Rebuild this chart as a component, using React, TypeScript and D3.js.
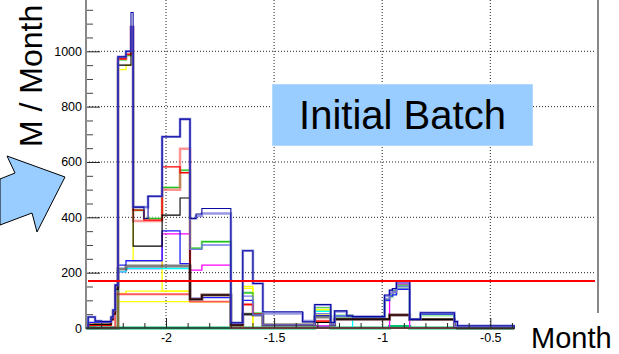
import React, { useEffect, useRef } from 'react';
import * as d3 from 'd3';

// bin edges (months) shared by all histograms
const binEdges = [-2.369, -2.36, -2.328, -2.3, -2.254, -2.245, -2.235, -2.222, -2.185, -2.162, -2.152, -2.102, -2.083, -2.018, -1.935, -1.889, -1.861, -1.834, -1.7, -1.645, -1.598, -1.552, -1.515, -1.368, -1.312, -1.238, -1.22, -1.164, -1.137, -0.989, -0.966, -0.952, -0.934, -0.873, -0.823, -0.666, -0.652, -0.389];

// M / Month per bin, one array per histogram
const navyCounts = [0, 40, 25, 23, 40, 65, 155, 980, 1000, 1140, 437, 396, 476, 691, 755, 396, 412, 432, 19, 279, 161, 59, 59, 22, 85, 20, 62, 44, 41, 119, 137, 143, 167, 31, 55, 23, 8];
const lavenderCounts = [0, 40, 25, 23, 40, 65, 155, 980, 1000, 1088, 437, 437, 476, 691, 755, 396, 405, 414, 19, 279, 161, 53, 53, 25, 83, 20, 60, 44, 41, 116, 134, 140, 165, 31, 55, 23, 8];
const periwinkleCounts = [0, 40, 25, 23, 40, 65, 155, 980, 1000, 1088, 437, 437, 476, 691, 755, 284, 284, 300, 19, 115, 47, 11, 11, 11, 52, 11, 43, 43, 41, 105, 125, 130, 150, 31, 52, 5, 3];
const redCounts = [10, 10, 10, 10, 30, 50, 140, 973, 989, 1088, 426, 390, 390, 582, 561, 104, 104, 119, 10, 85, 50, 11, 11, 11, 25, 11, 32, 32, 32, 32, 47, 47, 47, 31, 31, 5, 0];
const redThickCounts = [13, 13, 13, 13, 30, 60, 150, 973, 989, 1088, 387, 387, 387, 500, 648, 104, 104, 119, 10, 85, 50, 11, 11, 11, 25, 11, 32, 32, 32, 32, 47, 47, 47, 31, 31, 5, 0];
const blackCounts = [13, 13, 13, 13, 30, 50, 140, 950, 950, 1000, 296, 296, 296, 408, 470, 104, 104, 119, 11, 50, 47, 11, 11, 11, 20, 11, 32, 32, 32, 32, 47, 47, 47, 31, 31, 5, 0];
const grayCounts = [0, 0, 0, 0, 0, 0, 0, 213, 224, 224, 224, 224, 224, 224, 224, 104, 104, 119, 11, 50, 47, 11, 11, 11, 40, 11, 32, 32, 32, 32, 47, 47, 47, 31, 31, 5, 0];
const blueCounts = [0, 20, 20, 20, 30, 55, 140, 227, 243, 243, 243, 243, 243, 351, 233, 107, 107, 110, 10, 100, 47, 11, 11, 11, 45, 11, 43, 43, 41, 100, 115, 120, 140, 31, 50, 5, 3];
const greenCounts = [8, 8, 19, 19, 35, 60, 150, 970, 985, 1000, 426, 396, 396, 508, 570, 288, 288, 312, 10, 127, 53, 11, 11, 11, 73, 11, 40, 40, 38, 104, 119, 134, 155, 31, 49, 5, 0];
const lightGreenCounts = [8, 8, 19, 19, 35, 60, 150, 970, 985, 1000, 426, 396, 396, 508, 570, 288, 288, 312, 10, 127, 53, 11, 11, 11, 62, 11, 45, 45, 38, 100, 112, 125, 145, 31, 46, 5, 0];
const springCounts = [0, 0, 0, 0, 0, 0, 0, 0, 0, 0, 0, 0, 0, 0, 0, 0, 0, 0, 0, 0, 0, 0, 0, 0, 4, 0, 0, 0, 0, 0, 5, 5, 5, 0, 0, 0, 0];
const cyanCounts = [0, 0, 0, 0, 0, 0, 137, 203, 215, 215, 215, 215, 215, 215, 215, 104, 104, 119, 0, 0, 0, 0, 0, 0, 60, 0, 42, 42, 0, 0, 0, 0, 0, 0, 0, 0, 0];
const magentaCounts = [0, 0, 0, 0, 0, 0, 0, 203, 215, 215, 215, 215, 215, 340, 340, 209, 209, 227, 15, 0, 0, 0, 0, 0, 8, 0, 0, 0, 0, 0, 125, 130, 159, 0, 0, 0, 0];
const salmonCounts = [0, 0, 0, 0, 0, 0, 122, 122, 122, 122, 122, 122, 122, 122, 122, 95, 95, 95, 0, 0, 0, 0, 0, 0, 0, 0, 0, 0, 0, 0, 0, 0, 0, 0, 0, 0, 0];
const yellowHighCounts = [0, 0, 0, 0, 0, 0, 0, 934, 950, 950, 243, 243, 243, 133, 133, 95, 95, 95, 0, 150, 0, 0, 0, 0, 66, 0, 0, 0, 0, 0, 0, 0, 0, 0, 0, 0, 0];
const yellowMidCounts = [0, 0, 0, 0, 0, 0, 0, 125, 133, 133, 133, 133, 133, 133, 133, 95, 95, 95, 0, 0, 0, 0, 0, 0, 0, 0, 0, 0, 0, 0, 0, 0, 0, 0, 0, 0, 0];
const yellowLowCounts = [0, 0, 0, 0, 0, 0, 95, 95, 95, 95, 95, 95, 95, 95, 95, 95, 95, 95, 0, 143, 0, 0, 0, 0, 50, 0, 0, 0, 0, 0, 0, 0, 0, 0, 0, 0, 0];

const yMajorTicks = [0, 200, 400, 600, 800, 1000];
const xMajorTicks = [-2, -1.5, -1, -0.5];
const thresholdLevel = 170;

const App = () => {
  const svgRef = useRef(null);

  useEffect(() => {
    const svg = d3.select(svgRef.current);
    svg.selectAll('*').remove();

    const left = 86, right = 598, top = 0, bottom = 328;
    const x = d3.scaleLinear().domain([-2, -0.5]).range([166, 490.3]);
    const y = d3.scaleLinear().domain([0, 1000]).range([bottom, 51.3]);
    const font = 'Liberation Sans, Arial, Helvetica, sans-serif';

    svg.append('rect').attr('width', 619).attr('height', 354).attr('fill', '#fff');

    // grid
    const grid = svg.append('g').attr('stroke', '#222').attr('stroke-width', 1).attr('stroke-dasharray', '1,2');
    xMajorTicks.forEach(t => {
      grid.append('line').attr('x1', x(t)).attr('x2', x(t)).attr('y1', top).attr('y2', bottom);
    });
    yMajorTicks.filter(t => t > 0).forEach(t => {
      grid.append('line').attr('x1', left).attr('x2', right - 2).attr('y1', y(t)).attr('y2', y(t));
    });

    // histograms
    const stepPoints = (counts) => {
      const pts = [[binEdges[0], 0]];
      counts.forEach((c, i) => {
        pts.push([binEdges[i], c]);
        pts.push([binEdges[i + 1], c]);
      });
      pts.push([binEdges[binEdges.length - 1], 0]);
      return pts;
    };
    const line = d3.line().x(d => x(d[0])).y(d => y(d[1]));

    const series = [
      { counts: lightGreenCounts, color: '#9eea9e', width: 2.5 },
      { counts: springCounts, color: '#00c070', width: 3 },
      { counts: magentaCounts, color: '#ff00ff', width: 1.3 },
      { counts: yellowLowCounts, color: '#ffff00', width: 1.3 },
      { counts: yellowMidCounts, color: '#ffff00', width: 1.3 },
      { counts: yellowHighCounts, color: '#ffff00', width: 1.3 },
      { counts: cyanCounts, color: '#00ffff', width: 1.3 },
      { counts: salmonCounts, color: '#ff5a5a', width: 1.8 },
      { counts: greenCounts, color: '#22c022', width: 1.1 },
      { counts: blueCounts, color: '#1f1fff', width: 1.3 },
      { counts: redThickCounts, color: 'rgba(255,90,90,0.65)', width: 2.5 },
      { counts: redCounts, color: '#ff0000', width: 1.3 },
      { counts: grayCounts, color: 'rgba(60,60,60,0.65)', width: 3 },
      { counts: blackCounts, color: '#000', width: 1.1 },
      { counts: periwinkleCounts, color: '#7878e8', width: 1.3 },
      { counts: lavenderCounts, color: 'rgba(110,110,215,0.7)', width: 2.6 },
      { counts: navyCounts, color: '#0a0aa0', width: 1.1 }
    ];
    series.forEach(s => {
      svg.append('path')
        .attr('d', line(stepPoints(s.counts)))
        .attr('fill', 'none')
        .attr('stroke', s.color)
        .attr('stroke-width', s.width);
    });

    // threshold
    svg.append('line')
      .attr('x1', left + 2).attr('x2', right - 3)
      .attr('y1', y(thresholdLevel)).attr('y2', y(thresholdLevel))
      .attr('stroke', '#ff0000').attr('stroke-width', 2);

    // frame right edge
    svg.append('line').attr('x1', right).attr('x2', right).attr('y1', top).attr('y2', bottom)
      .attr('stroke', '#888').attr('stroke-width', 2);

    // y axis
    const yMinor = d3.range(50, 1200, 50).filter(v => v % 200 !== 0);
    const yMinorAxis = svg.append('g').attr('transform', `translate(${left},0)`)
      .call(d3.axisLeft(y).tickValues(yMinor).tickSize(-7).tickFormat(() => ''));
    yMinorAxis.select('.domain').remove();
    yMinorAxis.selectAll('line').attr('stroke', '#444');
    const yAxis = svg.append('g').attr('transform', `translate(${left},0)`)
      .call(d3.axisLeft(y).tickValues(yMajorTicks).tickSize(-14).tickPadding(4).tickFormat(d3.format('d')));
    yAxis.select('.domain').remove();
    yAxis.selectAll('line').attr('stroke', '#222');
    yAxis.selectAll('text').attr('font-family', font).attr('font-size', 12.5).attr('fill', '#000');
    svg.append('line').attr('x1', left).attr('x2', left).attr('y1', top).attr('y2', bottom + 1)
      .attr('stroke', '#888').attr('stroke-width', 2);

    // x axis
    const xMinor = d3.range(-2.3, -0.35, 0.1).filter(v => Math.abs(v * 2 - Math.round(v * 2)) > 0.01);
    const xMinorAxis = svg.append('g').attr('transform', `translate(0,${bottom})`)
      .call(d3.axisBottom(x).tickValues(xMinor).tickSize(-5).tickFormat(() => ''));
    xMinorAxis.select('.domain').remove();
    xMinorAxis.selectAll('line').attr('stroke', '#222');
    const xAxis = svg.append('g').attr('transform', `translate(0,${bottom})`)
      .call(d3.axisBottom(x).tickValues(xMajorTicks).tickSize(-10).tickPadding(5).tickFormat(d => `${d}`));
    xAxis.select('.domain').remove();
    xAxis.selectAll('line').attr('stroke', '#222');
    xAxis.selectAll('text').attr('font-family', font).attr('font-size', 12.5).attr('fill', '#000');
    svg.append('line').attr('x1', left).attr('x2', right).attr('y1', bottom).attr('y2', bottom)
      .attr('stroke', '#333').attr('stroke-width', 1.5);

    // axis titles
    svg.append('rect').attr('x', 515).attr('y', 313).attr('width', 104).attr('height', 41).attr('fill', '#fff');
    svg.append('text').attr('x', 531).attr('y', 347.5)
      .attr('font-family', font).attr('font-size', 29).attr('fill', '#000').text('Month');
    svg.append('text').attr('transform', 'translate(42,147) rotate(-90)')
      .attr('font-family', font).attr('font-size', 32).attr('fill', '#000').text('M / Month');

    // arrow annotation
    svg.append('path')
      .attr('d', 'M0,179 L15,173 L7,156 L65,177 L37,232 L32,213 L0,225 Z')
      .attr('fill', '#99ccff').attr('stroke', '#000').attr('stroke-width', 1);

    // label box
    svg.append('rect').attr('x', 272.5).attr('y', 84.5).attr('width', 260).attr('height', 61)
      .attr('fill', '#99ccff').attr('stroke', '#b3d9ff').attr('stroke-width', 1);
    svg.append('text').attr('x', 402.5).attr('y', 128.5).attr('text-anchor', 'middle')
      .attr('font-family', font).attr('font-size', 40).attr('fill', '#000').text('Initial Batch');
  }, []);

  return (
    <svg ref={svgRef} width={619} height={354} style={{ position: 'absolute', left: 0, top: 0 }}></svg>
  );
};

export default App;
